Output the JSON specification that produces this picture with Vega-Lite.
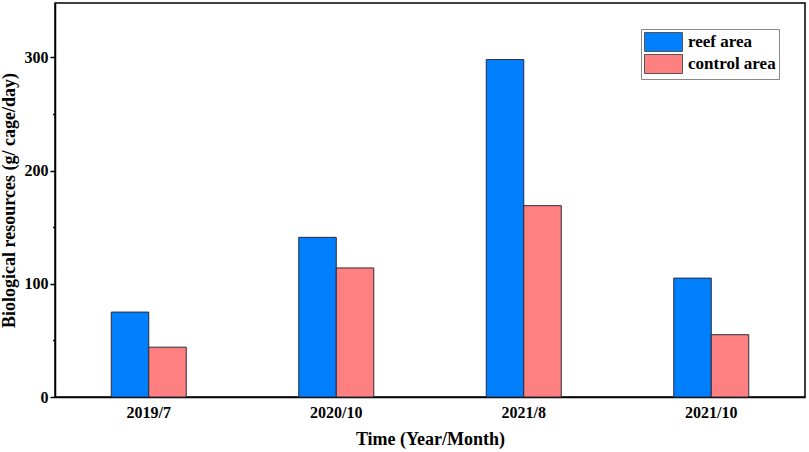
{
  "$schema": "https://vega.github.io/schema/vega-lite/v6.json",
  "width": 750,
  "height": 394,
  "autosize": {"type": "none"},
  "padding": {"left": 55, "top": 3, "right": 4, "bottom": 55},
  "background": "white",
  "config": {
    "font": "Liberation Serif",
    "view": {"stroke": "#000", "strokeWidth": 1.5},
    "axis": {
      "domainColor": "#000",
      "domainWidth": 1.5,
      "tickColor": "#000",
      "grid": false,
      "labelFont": "Liberation Serif",
      "labelFontSize": 16,
      "labelFontWeight": "bold",
      "labelColor": "#000",
      "titleFont": "Liberation Serif",
      "titleFontSize": 18,
      "titleFontWeight": "bold",
      "titleColor": "#000"
    }
  },
  "data": {
    "values": [
      {"time": "2019/7", "area": "reef area", "value": 75},
      {"time": "2019/7", "area": "control area", "value": 44},
      {"time": "2020/10", "area": "reef area", "value": 141},
      {"time": "2020/10", "area": "control area", "value": 114},
      {"time": "2021/8", "area": "reef area", "value": 298},
      {"time": "2021/8", "area": "control area", "value": 169},
      {"time": "2021/10", "area": "reef area", "value": 105},
      {"time": "2021/10", "area": "control area", "value": 55}
    ]
  },
  "mark": {"type": "bar", "stroke": "#2a2a3a", "strokeWidth": 1},
  "encoding": {
    "x": {
      "field": "time",
      "type": "nominal",
      "sort": ["2019/7", "2020/10", "2021/8", "2021/10"],
      "scale": {"paddingInner": 0.6, "paddingOuter": 0.3},
      "axis": {
        "title": "Time (Year/Month)",
        "labelAngle": 0,
        "ticks": false,
        "tickSize": 0,
        "labelPadding": 7,
        "titlePadding": 10
      }
    },
    "xOffset": {
      "field": "area",
      "type": "nominal",
      "sort": ["reef area", "control area"],
      "scale": {"paddingInner": 0, "paddingOuter": 0}
    },
    "y": {
      "field": "value",
      "type": "quantitative",
      "scale": {"domain": [0, 348], "nice": false},
      "axis": {
        "title": "Biological resources (g/ cage/day)",
        "values": [0, 50, 100, 150, 200, 250, 300],
        "labelExpr": "datum.value % 100 === 0 ? datum.label : ''",
        "tickSize": {"condition": {"test": "datum.value % 100 === 0", "value": 5}, "value": 2.5},
        "tickWidth": 1.5,
        "labelPadding": 2,
        "titlePadding": 6
      }
    },
    "color": {
      "field": "area",
      "type": "nominal",
      "sort": ["reef area", "control area"],
      "scale": {"domain": ["reef area", "control area"], "range": ["#0080FF", "#FF8080"]},
      "legend": {
        "title": null,
        "orient": "top-right",
        "offset": 26,
        "padding": 3,
        "rowPadding": -6,
        "strokeColor": "#888",
        "fillColor": "white",
        "symbolType": "M-1,-1H3V1H-1Z",
        "symbolSize": 361,
        "symbolStrokeColor": "#555",
        "symbolStrokeWidth": 1,
        "symbolOpacity": 1,
        "labelOffset": 24,
        "labelFont": "Liberation Serif",
        "labelFontSize": 17,
        "labelFontWeight": "bold",
        "labelColor": "#000"
      }
    }
  }
}
